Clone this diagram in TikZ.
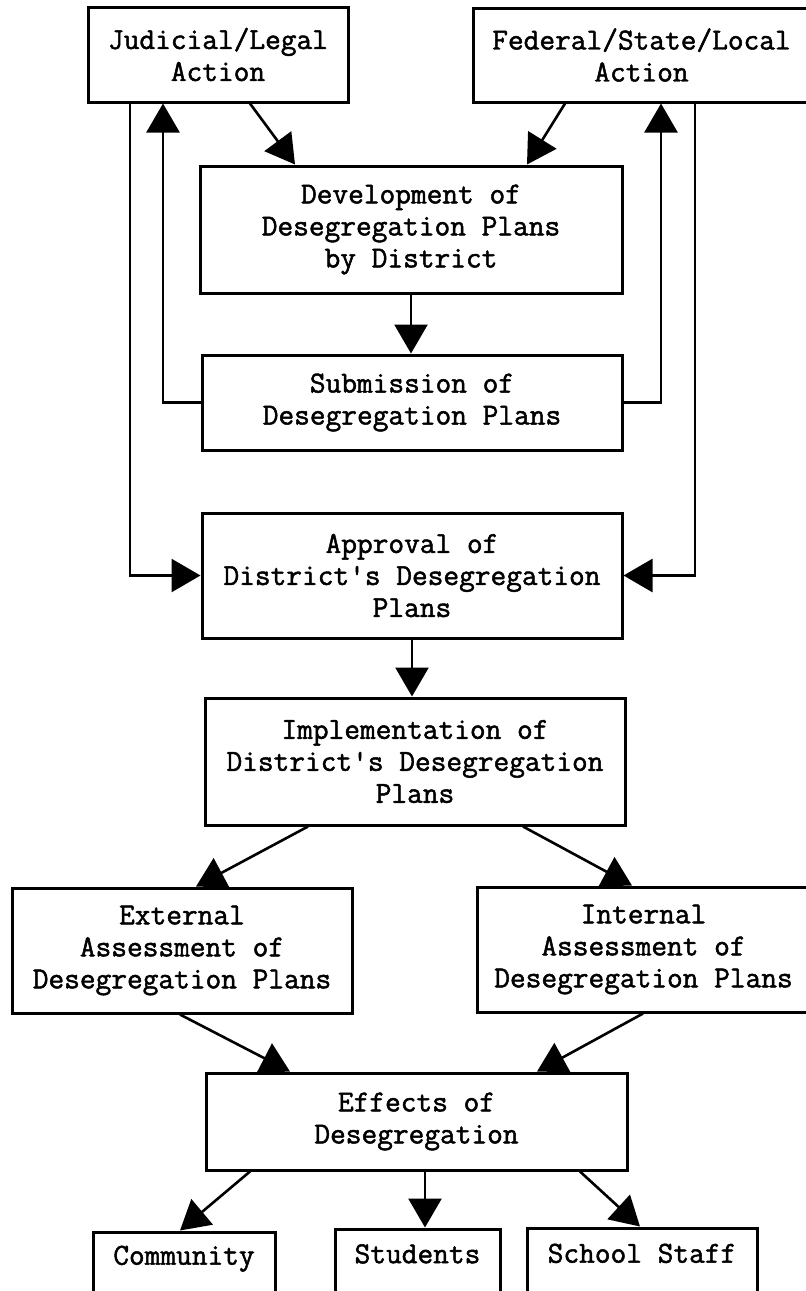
\documentclass[tikz,border=0pt]{standalone}
\usepackage{fontspec}
\newfontfamily\twfont[FakeBold=1.6]{Latin Modern Mono}
\usetikzlibrary{arrows.meta}
\tikzset{
  box/.style={draw, line width=3pt, rectangle, align=center, inner sep=0pt,
    font=\twfont\fontsize{30.5}{32}\selectfont},
  conn/.style={line width=2.6pt, -{Triangle[length=29pt,width=33pt]}}
}
\begin{document}
\begin{tikzpicture}[x=1pt,y=-1pt]
\useasboundingbox (0,0) rectangle (806,1291);
\clip (0,0) rectangle (806,1291);
\node[box, minimum width=260pt, minimum height=95pt] (jud) at (218,54.5) {Judicial/Legal\\Action};
\node[box, minimum width=337pt, minimum height=94pt] (fed) at (641.5,55) {Federal/State/Local\\Action};
\node[box, minimum width=422pt, minimum height=127pt] (dev) at (411,229.5) {Development of\\Desegregation Plans\\by District};
\node[box, minimum width=420pt, minimum height=95pt] (sub) at (412,402.5) {Submission of\\Desegregation Plans};
\node[box, minimum width=420pt, minimum height=125pt] (app) at (412,575.5) {Approval of\\District's Desegregation\\Plans};
\node[box, minimum width=420pt, minimum height=127pt] (imp) at (415,761.5) {Implementation of\\District's Desegregation\\Plans};
\node[box, minimum width=340pt, minimum height=125pt] (ext) at (182,950.5) {External\\Assessment of\\Desegregation Plans};
\node[box, minimum width=333pt, minimum height=125pt] (int) at (643.5,949.5) {Internal\\Assessment of\\Desegregation Plans};
\node[box, minimum width=421pt, minimum height=97pt] (eff) at (416.5,1121.5) {Effects of\\Desegregation};
\node[box, minimum width=182pt, minimum height=88pt] (com) at (184,1276) {Community\\\strut};
\node[box, minimum width=165pt, minimum height=91pt] (stu) at (417.5,1274.5) {Students\\\strut};
\node[box, minimum width=230pt, minimum height=92pt] (sta) at (642,1274) {School Staff\\\strut};

\draw[conn] ([xshift=32pt]jud.south) -- ([xshift=-116pt]dev.north);
\draw[conn] ([xshift=-76.5pt]fed.south) -- ([xshift=116pt]dev.north);
\draw[conn] (dev.south) -- (dev.south |- sub.north);
\draw[conn] (sub.west) -| ([xshift=-55pt]jud.south);
\draw[conn] (sub.east) -| ([xshift=19.5pt]fed.south);
\draw[conn] ([xshift=-88pt]jud.south) |- (app.west);
\draw[conn] ([xshift=53.5pt]fed.south) |- (app.east);
\draw[conn] (app.south) -- (app.south |- imp.north);
\draw[conn] ([xshift=-107pt]imp.south) -- ([xshift=14pt]ext.north);
\draw[conn] ([xshift=108pt]imp.south) -- ([xshift=-11.5pt]int.north);
\draw[conn] ([xshift=-2pt]ext.south) -- ([xshift=-126.5pt]eff.north);
\draw[conn] ([xshift=-0.5pt]int.south) -- ([xshift=120.5pt]eff.north);
\draw[conn] ([xshift=-166.5pt]eff.south) -- ([xshift=-4pt]com.north);
\draw[conn] ([xshift=8.5pt]eff.south) -- ([xshift=7.5pt]stu.north);
\draw[conn] ([xshift=163.5pt]eff.south) -- ([xshift=-2pt]sta.north);
\end{tikzpicture}
\end{document}
